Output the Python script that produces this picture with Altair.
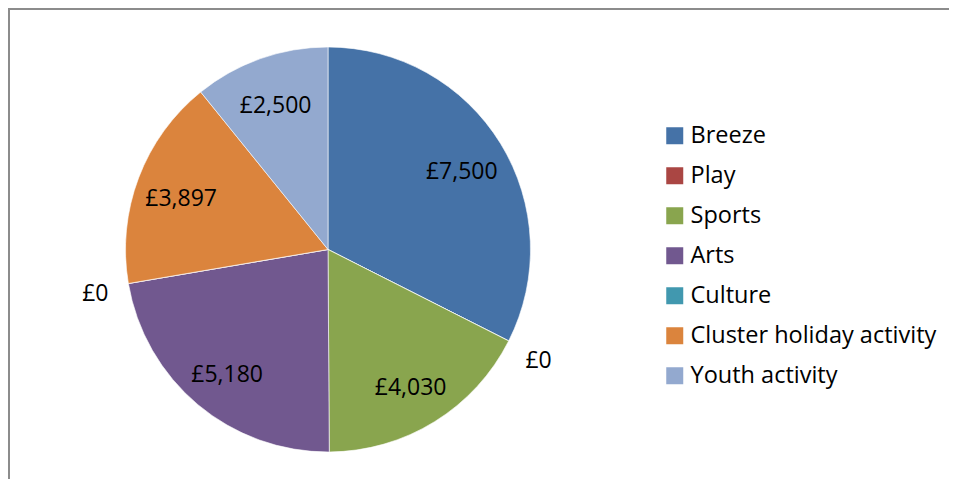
import altair as alt
import pandas as pd

categories = ["Breeze", "Play", "Sports", "Arts", "Culture", "Cluster holiday activity", "Youth activity"]
values = [7500, 0, 4030, 5180, 0, 3897, 2500]
colors = ["#4572A7", "#AA4643", "#89A54E", "#71588F", "#4198AF", "#DB843D", "#93A9CF"]

df = pd.DataFrame({"category": categories, "value": values, "order": list(range(len(categories)))})
total = sum(values)

FONT = "Open Sans"
CX, CY, R = 320, 241.5, 202.5

base = alt.Chart(df).transform_calculate(
    label="'£' + format(datum.value, ',')",
    r="datum.value > 0 ? 157 : 236",
)

color_enc = alt.Color(
    "category:N",
    scale=alt.Scale(domain=categories, range=colors),
    sort=categories,
    legend=alt.Legend(
        title=None, orient="none", legendX=655, legendY=116,
        symbolType="square", symbolSize=289, symbolStrokeWidth=0, symbolOpacity=1,
        labelFont=FONT, labelFontSize=23.5, labelColor="#000000", labelOffset=4,
        rowPadding=15, labelLimit=400,
    ),
)

arcs = base.mark_arc(outerRadius=R, stroke="#ffffff", strokeWidth=0.6).encode(
    theta=alt.Theta("value:Q", stack=True, scale=alt.Scale(zero=True, nice=False)),
    order=alt.Order("order:Q", sort="ascending"),
    color=color_enc,
    x=alt.value(CX), y=alt.value(CY),
)

labels = base.transform_stack(
    stack="value", groupby=[], as_=["start", "end"], sort=[alt.SortField("order", order="ascending")]
).transform_calculate(
    mid="(datum.start + datum.end) / 2",
).mark_text(
    font=FONT, fontSize=23, color="#000000", align="center", baseline="middle", dy=5
).encode(
    theta=alt.Theta("mid:Q", stack=None, scale=alt.Scale(domain=[0, total], zero=True, nice=False)),
    radius=alt.Radius("r:Q", scale=None),
    text="label:N",
    x=alt.value(CX), y=alt.value(CY),
)

border_top = alt.Chart(df).mark_rule(color="#8c8c8c", strokeWidth=2).encode(
    x=alt.value(0), x2=alt.value(941), y=alt.value(0.5)
)
border_left = alt.Chart(df).mark_rule(color="#8c8c8c", strokeWidth=2).encode(
    x=alt.value(0.5), y=alt.value(0), y2=alt.value(471)
)

chart = alt.layer(arcs, labels, border_top, border_left).resolve_scale(
    theta="independent"
).properties(
    width=941, height=471, autosize=alt.AutoSizeParams(type="none"), padding=0
).configure_view(stroke=None).configure(background="#ffffff")

chart.save("out.html", embed_options={"renderer": "svg", "actions": False})
